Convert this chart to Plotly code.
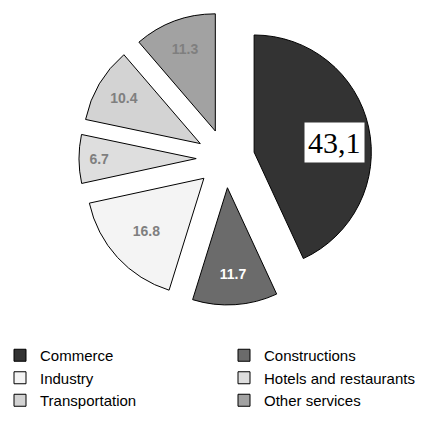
import math
import plotly.graph_objects as go

# Share of businesses by sector (%)
sectors = ["Commerce", "Constructions", "Industry",
           "Hotels and restaurants", "Transportation", "Other services"]
shares = [43.1, 11.7, 16.8, 6.7, 10.4, 11.3]
slice_colors = ["#333333", "#6b6b6b", "#f4f4f4", "#dedede", "#d3d3d3", "#a2a2a2"]
label_colors = ["#000000", "#ffffff", "#7f7f7f", "#7f7f7f", "#7f7f7f", "#7f7f7f"]

W, H = 445, 425
PULL = 0.25
dom_x = [78 / W, 373 / W]
dom_y = [1 - 305 / H, 1 - 12 / H]

# the first slice gets its own boxed serif label; the others use bold pie text
slice_text = [""] + ["<b>%.1f</b>" % v for v in shares[1:]]

fig = go.Figure(go.Pie(
    labels=sectors,
    values=shares,
    sort=False,
    direction="clockwise",
    rotation=0,
    pull=[PULL] * len(shares),
    marker=dict(colors=slice_colors, line=dict(color="#000000", width=1)),
    text=slice_text,
    textinfo="text",
    textposition="inside",
    insidetextorientation="horizontal",
    textfont=dict(family="Arial, Liberation Sans", size=14, color=label_colors),
    hoverinfo="label+value",
    domain=dict(x=dom_x, y=dom_y),
))

# place the boxed label along the bisector of the first slice
box_w = (dom_x[1] - dom_x[0]) * W
box_h = (dom_y[1] - dom_y[0]) * H
r = min(box_w, box_h) / (2 + 2 * PULL)
cx = W * (dom_x[0] + dom_x[1]) / 2
cy = H * (1 - dom_y[0]) - box_h / 2
theta = math.radians(shares[0] / sum(shares) * 360 / 2)
dist = r * (PULL + 0.70)
lx = cx + dist * math.sin(theta)
ly = cy - dist * math.cos(theta)

fig.add_annotation(
    x=lx / W, y=1 - ly / H, xref="paper", yref="paper",
    xanchor="center", yanchor="middle", yshift=-8,
    text=f"{shares[0]:.1f}".replace(".", ","),
    showarrow=False,
    font=dict(family="Liberation Serif, Times New Roman", size=30, color="#000000"),
    bgcolor="#ffffff",
    borderpad=3,
)

fig.update_layout(
    width=W, height=H,
    margin=dict(l=0, r=0, t=0, b=0),
    paper_bgcolor="#ffffff",
    plot_bgcolor="#ffffff",
    showlegend=True,
    legend=dict(
        orientation="h",
        x=0, xanchor="left",
        y=1 - 339 / H, yanchor="top",
        entrywidth=179,
        font=dict(family="Arial, Liberation Sans", size=15, color="#000000"),
        itemclick=False, itemdoubleclick=False,
    ),
)

fig.write_html("out.html")
